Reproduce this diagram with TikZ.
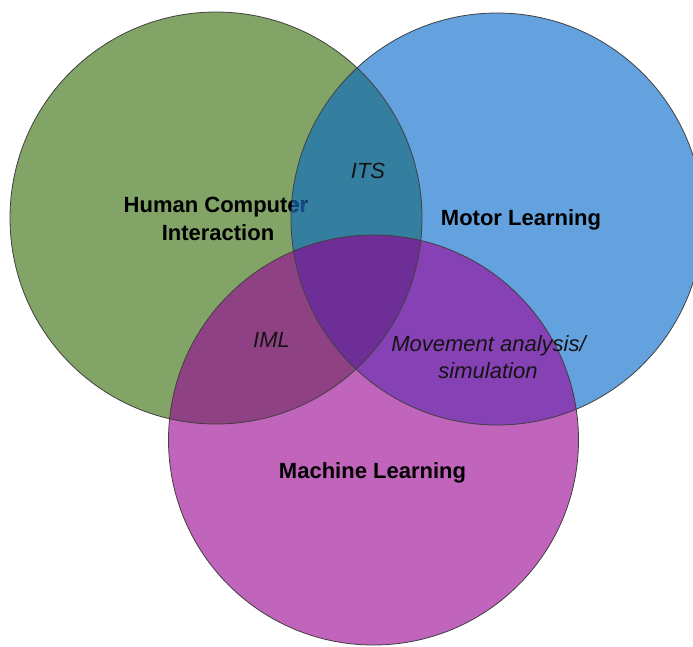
\documentclass[tikz,border=0pt]{standalone}
\usepackage{fontspec}
\setmainfont{Liberation Sans}
\definecolor{cG}{HTML}{83A467}
\definecolor{cB}{HTML}{64A2DF}
\definecolor{cM}{HTML}{C064BC}
\definecolor{cGB}{HTML}{347E9F}
\definecolor{cGM}{HTML}{8E4283}
\definecolor{cBM}{HTML}{8641B4}
\definecolor{cGBM}{HTML}{6D2E97}
\definecolor{cEr}{HTML}{134B86}
\begin{document}
\begin{tikzpicture}[x=1pt,y=-1pt,
  lbl/.style={inner sep=0pt,anchor=base,font=\fontsize{22}{27}\selectfont\bfseries,text=black},
  ital/.style={inner sep=0pt,anchor=base,font=\fontsize{22}{27}\selectfont\itshape,text=black!92},
  ring/.style={draw=black!75,line width=0.8pt}]
\useasboundingbox (0,0) rectangle (693,646);
\clip (0,0) rectangle (693,646);
\def\circG{(216,218) circle[radius=206]}
\def\circB{(497,219) circle[radius=206]}
\def\circM{(373.5,440) circle[radius=205]}
% base fills
\fill[cG] \circG;
\fill[cB] \circB;
\fill[cM] \circM;
% overlaps
\begin{scope}
  \clip \circG;
  \fill[cGB] \circB;
  \fill[cGM] \circM;
\end{scope}
\begin{scope}
  \clip \circB;
  \fill[cBM] \circM;
\end{scope}
\begin{scope}
  \clip \circG;
  \clip \circB;
  \fill[cGBM] \circM;
\end{scope}
% outlines
\draw[ring] \circG;
\draw[ring] \circB;
\draw[ring] \circM;
% labels
\node[lbl] (hci1) at (216,212) {Human Computer};
\node[lbl] (hci2) at (218,240) {Interaction};
\begin{scope}
  \clip \circB;
  \node[lbl,text=cEr] (hci1b) at (216,212) {Human Computer};
\end{scope}
\node[lbl] (motor) at (521,225) {Motor Learning};
\node[lbl] (ml) at (372.5,478) {Machine Learning};
\node[ital] (its) at (368,178) {ITS};
\node[ital] (iml) at (271.5,347) {IML};
\node[ital] (mov1) at (488.5,351) {Movement analysis/};
\node[ital] (mov2) at (488,378) {simulation};
\end{tikzpicture}
\end{document}
